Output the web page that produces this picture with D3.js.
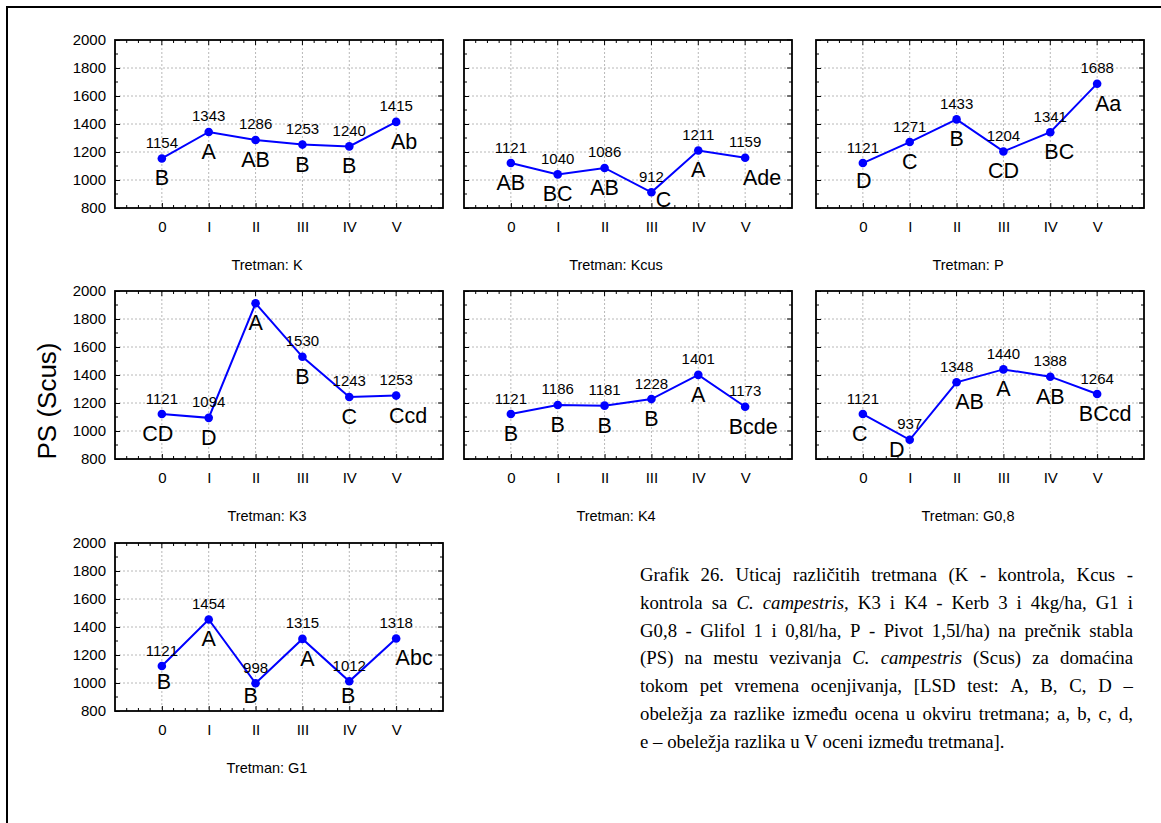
<!DOCTYPE html>
<html><head><meta charset="utf-8">
<script src="https://cdn.jsdelivr.net/npm/d3@7"></script>
<style>body{margin:0;background:#fff} svg{display:block}</style>
</head><body><svg id="c" width="1161" height="823"></svg>
<script>
// ---------- data ----------
const categories = ["0","I","II","III","IV","V"];
const yTickValues = [800,1000,1200,1400,1600,1800,2000];
const treatments = ["K","Kcus","P","K3","K4","G0,8","G1"];
const valuesK    = [1154,1343,1286,1253,1240,1415];
const valuesKcus = [1121,1040,1086,912,1211,1159];
const valuesP    = [1121,1271,1433,1204,1341,1688];
const valuesK3   = [1121,1094,1912,1530,1243,1253];
const valuesK4   = [1121,1186,1181,1228,1401,1173];
const valuesG08  = [1121,937,1348,1440,1388,1264];
const valuesG1   = [1121,1454,998,1315,1012,1318];
const lettersK    = ["B","A","AB","B","B","Ab"];
const lettersKcus = ["AB","BC","AB","C","A","Ade"];
const lettersP    = ["D","C","B","CD","BC","Aa"];
const lettersK3   = ["CD","D","A","B","C","Ccd"];
const lettersK4   = ["B","B","B","B","A","Bcde"];
const lettersG08  = ["C","D","AB","A","AB","BCcd"];
const lettersG1   = ["B","A","B","A","B","Abc"];
const showValueK3 = [true,true,false,true,true,true];
const yTitle = "PS (Scus)";
const xTitlePrefix = "Tretman: ";
const captionLines = [
  "Grafik 26. Uticaj različitih tretmana (K - kontrola, Kcus -",
  "kontrola sa *C. campestris,* K3 i K4 - Kerb 3 i 4kg/ha, G1 i",
  "G0,8 - Glifol 1 i 0,8l/ha, P - Pivot 1,5l/ha) na prečnik stabla",
  "(PS) na mestu vezivanja *C. campestris* (Scus) za domaćina",
  "tokom pet vremena ocenjivanja, [LSD test: A, B, C, D –",
  "obeležja za razlike između ocena u okviru tretmana; a, b, c, d,",
  "e – obeležja razlika u V oceni između tretmana]."
];

const seriesValues = [valuesK, valuesKcus, valuesP, valuesK3, valuesK4, valuesG08, valuesG1];
const seriesLetters = [lettersK, lettersKcus, lettersP, lettersK3, lettersK4, lettersG08, lettersG1];
const seriesShow = [null, null, null, showValueK3, null, null, null];

// ---------- layout ----------
const colX = [115, 464, 816], rowY = [40, 291, 543];
const plotW = 328, plotH = 168;
const cells = [[0,0],[0,1],[0,2],[1,0],[1,1],[1,2],[2,0]];
// letter label nudges [dx, dy] (layout only)
const letterNudge = {
  "K": {5:[8,0]},
  "Kcus": {3:[12,-12], 5:[17,0]},
  "P": {0:[1,-2], 4:[9,0], 5:[11,0]},
  "K3": {0:[-4,0], 5:[12,0]},
  "K4": {5:[8,0]},
  "G0,8": {0:[-3,0], 1:[-13,-10], 2:[13,0], 5:[8,0]},
  "G1": {0:[2,-4], 2:[-5,-7], 3:[5,0], 4:[-1,-5], 5:[18,0]}
};
const SANS = "'Liberation Sans', Arial, sans-serif";
const SERIF = "'Liberation Serif', 'Times New Roman', serif";

const svg = d3.select("#c");
svg.append("rect").attr("width",1161).attr("height",823).attr("fill","#fff");
// outer frame (top & left only visible)
svg.append("line").attr("x1",6).attr("x2",1161).attr("y1",7).attr("y2",7).attr("stroke","#000").attr("stroke-width",2);
svg.append("line").attr("x1",7).attr("x2",7).attr("y1",6).attr("y2",823).attr("stroke","#000").attr("stroke-width",2);

treatments.forEach((name, i) => {
  const [r, c] = cells[i];
  const x0 = colX[c], y0 = rowY[r];
  const x = d3.scalePoint().domain(categories).range([x0, x0 + plotW]).padding(1);
  const y = d3.scaleLinear().domain([800, 2000]).range([y0 + plotH, y0]);
  const g = svg.append("g");
  const step = x.step();

  // grid
  g.selectAll(".gy").data(yTickValues.slice(1, -1)).join("line")
    .attr("x1", x0).attr("x2", x0 + plotW).attr("y1", d => y(d)).attr("y2", d => y(d))
    .attr("stroke", "#b8b8b8").attr("stroke-dasharray", "2,2").attr("stroke-width", 1);
  g.selectAll(".gx").data(categories).join("line")
    .attr("x1", d => x(d)).attr("x2", d => x(d)).attr("y1", y0).attr("y2", y0 + plotH)
    .attr("stroke", "#b8b8b8").attr("stroke-dasharray", "2,2").attr("stroke-width", 1);

  // minor ticks
  const minorY = d3.range(900, 2000, 200);
  const minorX = d3.range(1, 28).filter(k => k % 4 !== 0).map(k => x0 + k * step / 4);
  const tk = g.append("g").attr("stroke", "#000").attr("stroke-width", 1);
  minorY.forEach(v => {
    tk.append("line").attr("x1", x0).attr("x2", x0 + 3).attr("y1", y(v)).attr("y2", y(v));
    tk.append("line").attr("x1", x0 + plotW).attr("x2", x0 + plotW - 3).attr("y1", y(v)).attr("y2", y(v));
  });
  yTickValues.forEach(v => {
    tk.append("line").attr("x1", x0 + plotW).attr("x2", x0 + plotW - 5).attr("y1", y(v)).attr("y2", y(v));
  });
  minorX.forEach(px => {
    tk.append("line").attr("x1", px).attr("x2", px).attr("y1", y0).attr("y2", y0 + 3);
    tk.append("line").attr("x1", px).attr("x2", px).attr("y1", y0 + plotH).attr("y2", y0 + plotH - 3);
  });
  categories.forEach(cat => {
    tk.append("line").attr("x1", x(cat)).attr("x2", x(cat)).attr("y1", y0).attr("y2", y0 + 5);
  });

  // axes
  const ya = g.append("g").attr("transform", `translate(${x0},0)`)
    .call(d3.axisLeft(y).tickValues(yTickValues).tickFormat(d3.format("d"))
      .tickSizeInner(-5).tickSizeOuter(0).tickPadding(9));
  const xa = g.append("g").attr("transform", `translate(0,${y0 + plotH})`)
    .call(d3.axisBottom(x).tickSizeInner(-5).tickSizeOuter(0).tickPadding(13));
  [ya, xa].forEach(a => {
    a.select(".domain").remove();
    a.selectAll("text").attr("font-family", SANS).attr("font-size", 15).attr("fill", "#000");
    a.selectAll("line").attr("stroke", "#000");
  });
  if (c !== 0) ya.selectAll("text").remove();

  // frame
  g.append("rect").attr("x", x0).attr("y", y0).attr("width", plotW).attr("height", plotH)
    .attr("fill", "none").attr("stroke", "#000").attr("stroke-width", 1.8);

  // x title
  g.append("text").attr("x", x0 + plotW / 2 - 12).attr("y", y0 + plotH + 62)
    .attr("text-anchor", "middle").attr("font-family", SANS).attr("font-size", 14.5)
    .text(xTitlePrefix + name);

  // series
  const vals = seriesValues[i];
  const pts = categories.map((cat, j) => ({cat, v: vals[j], j}));
  g.append("path").datum(pts)
    .attr("d", d3.line().x(d => x(d.cat)).y(d => y(d.v)))
    .attr("fill", "none").attr("stroke", "#0000ff").attr("stroke-width", 2);
  g.selectAll(".pt").data(pts).join("circle")
    .attr("cx", d => x(d.cat)).attr("cy", d => y(d.v)).attr("r", 4.3).attr("fill", "#0000ff");

  // value labels
  const show = seriesShow[i];
  g.selectAll(".vl").data(pts.filter(d => !show || show[d.j])).join("text")
    .attr("x", d => x(d.cat)).attr("y", d => y(d.v) - 10.5)
    .attr("text-anchor", "middle").attr("font-family", SANS).attr("font-size", 15)
    .text(d => d.v);

  // letter labels
  const lets = seriesLetters[i];
  const nud = letterNudge[name] || {};
  g.selectAll(".ll").data(pts).join("text")
    .attr("x", d => x(d.cat) + (nud[d.j] ? nud[d.j][0] : 0))
    .attr("y", d => y(d.v) + 27 + (nud[d.j] ? nud[d.j][1] : 0))
    .attr("text-anchor", "middle").attr("font-family", SANS).attr("font-size", 21.5)
    .text(d => lets[d.j]);
});

// y title
svg.append("text").attr("transform", "translate(56,401) rotate(-90)")
  .attr("text-anchor", "middle").attr("font-family", SANS).attr("font-size", 26)
  .text(yTitle);

// caption (justified)
const capX0 = 640, capX1 = 1133, capY0 = 581, capLH = 27.8;
captionLines.forEach((line, li) => {
  const parts = line.split("*");
  const words = [];
  parts.forEach((p, pi) => {
    const it = pi % 2 === 1;
    p.split(" ").forEach(w => { if (w !== "") words.push({w, it}); });
  });
  const yy = capY0 + li * capLH;
  const t = svg.append("g");
  const nodes = words.map(wd => t.append("text").attr("y", yy)
    .attr("font-family", SERIF).attr("font-size", 18.8).attr("fill", "#000")
    .attr("font-style", wd.it ? "italic" : "normal").text(wd.w));
  const widths = nodes.map(n => n.node().getComputedTextLength());
  const total = d3.sum(widths);
  const last = li === captionLines.length - 1;
  const gap = last ? 18.8 * 0.25 : (capX1 - capX0 - total) / (words.length - 1);
  let cx = capX0;
  nodes.forEach((n, k) => { n.attr("x", cx); cx += widths[k] + gap; });
});
</script>
</body></html>
